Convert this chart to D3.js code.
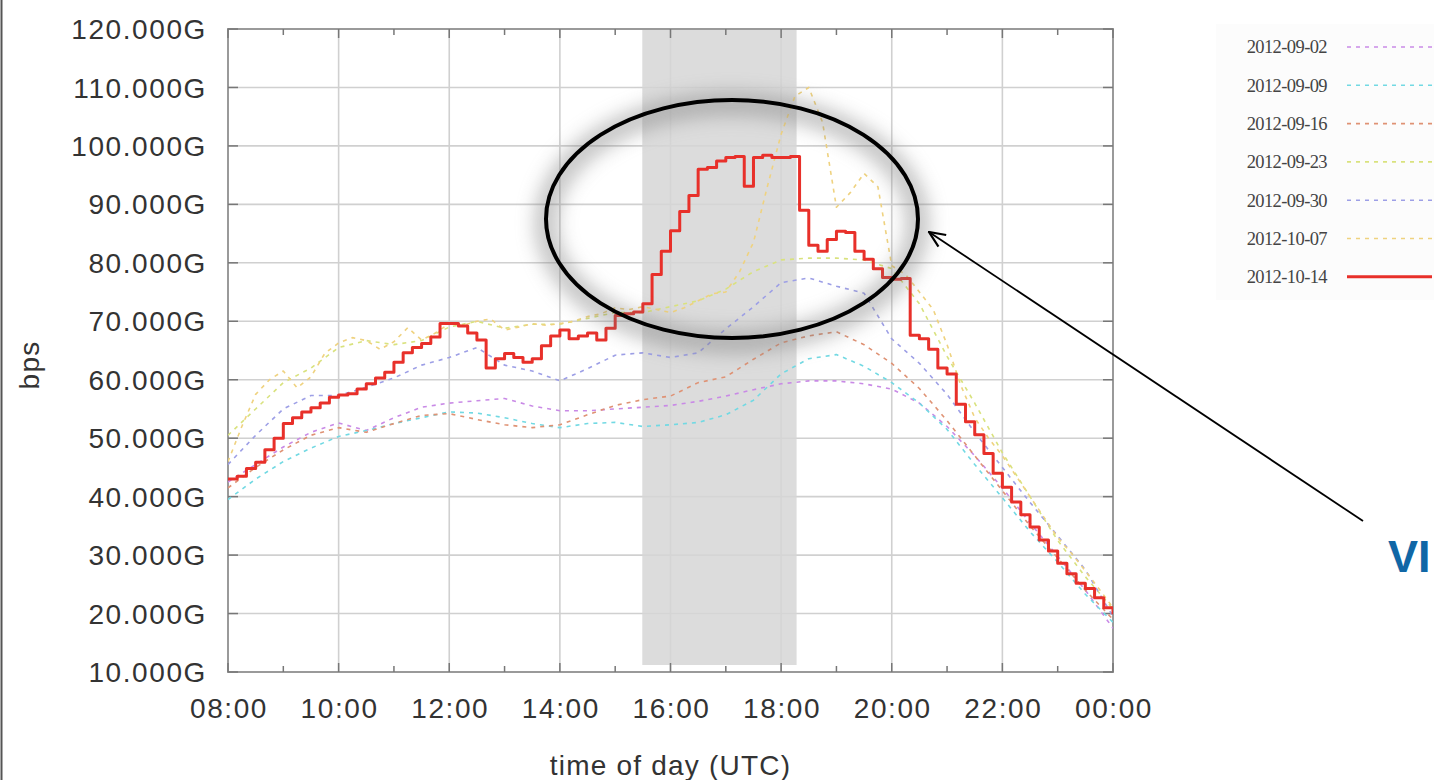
<!DOCTYPE html>
<html>
<head>
<meta charset="utf-8">
<script src="https://cdn.jsdelivr.net/npm/d3@7/dist/d3.min.js"></script>
<style>
  html, body { margin: 0; padding: 0; background: #ffffff; overflow: hidden; }
  svg { display: block; }
</style>
</head>
<body>
<svg id="chart" width="1434" height="780"></svg>
<script>
// ---------------- DATA ----------------
const seriesNames = ["2012-09-02","2012-09-09","2012-09-16","2012-09-23","2012-09-30","2012-10-07","2012-10-14"];
const seriesColors = ["#c98ae6","#72d9e3","#df9274","#d9e27e","#9d9fe6","#efd27f","#e8302a"];

const xTickHours = [8,10,12,14,16,18,20,22,24];
const xTickLabels = ["08:00","10:00","12:00","14:00","16:00","18:00","20:00","22:00","00:00"];
const yTickValues = [10,20,30,40,50,60,70,80,90,100,110,120];
const yTickLabels = ["10.000G","20.000G","30.000G","40.000G","50.000G","60.000G","70.000G","80.000G","90.000G","100.000G","110.000G","120.000G"];

// values in Gbps, every 30 min from 08:00 to 00:00
const s0902 = [42.5,45.5,48.5,51,52.6,51.3,53.5,55.3,56,56.4,56.8,55.5,54.7,54.7,55,55.3,55.6,56.3,57.2,58.3,59.3,59.8,59.8,59.3,58.4,56,52,47,41.5,35.5,29.8,24,17.5];
const s0909 = [39.5,43,46,48.3,50.3,51.3,52.5,53.5,54.5,54.3,53.5,52.5,51.8,52.5,52.7,52,52.3,52.7,54,56.5,61,63.6,64.3,62.3,59.5,56,51.5,45.5,39.8,34,28.8,23.3,18.5];
const s0916 = [41.5,45,48,50.5,51.8,51,52.5,53.9,54.2,53.2,52.3,51.8,52.3,54,55.6,56.6,57.2,59.5,60.5,63.5,66.3,67.5,68.2,66,62.8,58.5,53,47,41,35,29.5,24,19];
const s0923 = [50.5,55,59.5,62,65.5,66.7,66,66.7,69,70,68.8,69.5,69.5,70.5,71.5,71.5,72.5,73.5,75.5,78.5,80.5,80.8,80.8,80.5,79,73,64,56,47.5,40,32.5,26.3,20.8];
const s0930 = [45.5,50.5,55,57.3,57.3,58.7,60.3,62.5,63.8,65.5,62.5,61.5,59.8,61.9,64.2,64.6,63.8,64.6,68.7,72.5,76.6,77.4,76,74.8,67,62.8,57.5,51,45,39,33.3,27.5,19.5];
// every 15 min
const s1007 = [46,52,57.5,60, 61.5,58.6,60.5,64.5, 66.3,67.2,66.7,65.2, 66.5,68.9,66.8,68,
  69.6,69.3,70,70.4, 68.5,69,69.6,69.3, 69.6,70,70.8,71.3, 72.3,72,72.5,72,
  71.5,72.3,73.5,74.7, 75,78.5,83.5,93, 102,108.5,110,104, 89.5,92,95.3,93,
  79.5,78,75,72, 66,59,53.5,50, 47,43.5,40,36.5, 33,30.3,27.3,24.2, 21];
// every 10 min
const s1014 = [43,43.5,44.8,45.9,48,50, 52.5,53.5,54.5,55.2,56,57, 57.4,57.6,58.4,59.3,60.3,61.3,
  63,64.6,65.5,66.2,67.3,69.6, 69.6,69.2,68,66.8,62,63.6, 64.5,63.8,63,63.6,65.8,67.5,
  68.5,67,67.5,68,66.8,68.8, 71,71.3,71.6,73,78,82, 85.5,88.8,91.5,96,96.3,97.4,
  98,98.2,93.1,98,98.4,98, 98,98.2,89,83,82,84, 85.4,85.2,82,80.6,79,77.5,
  77.2,77.3,67.6,67,65.2,62, 61,55.8,52.8,50.6,47.4,44, 41.6,39.1,36.9,34.8,32.6,30.7,
  28.6,26.8,25.2,24.3,22.7,21, 19.9];

const highlightStart = 15.49, highlightEnd = 18.28;   // grey band (hours)

// ---------------- LAYOUT ----------------
const svg = d3.select("#chart");
const W = 1434, H = 780;
const plot = {left: 228, right: 1113, top: 29, bottom: 672};
const x = d3.scaleLinear().domain([8, 24]).range([plot.left, plot.right]);
const y = d3.scaleLinear().domain([10, 120]).range([plot.bottom, plot.top]);

const defs = svg.append("defs");
const blur = defs.append("filter").attr("id","shadow").attr("x","-30%").attr("y","-30%").attr("width","160%").attr("height","160%");
blur.append("feGaussianBlur").attr("stdDeviation", 10);
defs.append("clipPath").attr("id","plotclip").append("rect")
  .attr("x", plot.left).attr("y", plot.top).attr("width", plot.right - plot.left).attr("height", plot.bottom - plot.top);
defs.append("marker").attr("id","arrowhead").attr("viewBox","0 0 20 20").attr("refX",19).attr("refY",10)
  .attr("markerWidth",20).attr("markerHeight",20).attr("markerUnits","userSpaceOnUse").attr("orient","auto")
  .append("path").attr("d","M3,3 L19,10 L3,17").attr("fill","none").attr("stroke","#000").attr("stroke-width",2.2);

svg.append("rect").attr("width", W).attr("height", H).attr("fill", "#fff");
// left page border
svg.append("line").attr("x1",1.5).attr("x2",1.5).attr("y1",0).attr("y2",H).attr("stroke","#555").attr("stroke-width",2);

const font = "'Liberation Sans', Arial, Helvetica, sans-serif";

// grid
const g = svg.append("g");
g.selectAll(".hg").data(yTickValues.slice(1, -1)).enter().append("line")
  .attr("x1", plot.left).attr("x2", plot.right).attr("y1", d => y(d)).attr("y2", d => y(d))
  .attr("stroke", "#d0d0d0").attr("stroke-width", 1.6);
g.selectAll(".vg").data(xTickHours.slice(1, -1)).enter().append("line")
  .attr("x1", d => x(d)).attr("x2", d => x(d)).attr("y1", plot.top).attr("y2", plot.bottom)
  .attr("stroke", "#d0d0d0").attr("stroke-width", 1.6);

// highlight band
g.append("rect").attr("x", x(highlightStart)).attr("width", x(highlightEnd) - x(highlightStart))
  .attr("y", plot.top + 1).attr("height", plot.bottom - plot.top - 8)
  .attr("fill", "#d6d6d6").attr("opacity", 0.85);

// frame + ticks
g.append("rect").attr("x", plot.left).attr("y", plot.top).attr("width", plot.right - plot.left).attr("height", plot.bottom - plot.top)
  .attr("fill","none").attr("stroke","#9a9a9a").attr("stroke-width",2);
const hours = d3.range(8, 25, 1);
g.selectAll(".tt").data(hours).enter().append("line")
  .attr("x1", d => x(d)).attr("x2", d => x(d)).attr("y1", plot.top).attr("y2", d => plot.top + (d % 2 === 0 ? 9 : 6))
  .attr("stroke", "#777").attr("stroke-width", 1.5);
g.selectAll(".bt").data(hours).enter().append("line")
  .attr("x1", d => x(d)).attr("x2", d => x(d)).attr("y1", plot.bottom).attr("y2", d => plot.bottom - (d % 2 === 0 ? 9 : 6))
  .attr("stroke", "#777").attr("stroke-width", 1.5);
g.selectAll(".lt").data(yTickValues).enter().append("line")
  .attr("x1", plot.left).attr("x2", plot.left + 10).attr("y1", d => y(d)).attr("y2", d => y(d))
  .attr("stroke", "#777").attr("stroke-width", 1.5);
g.selectAll(".rt").data(yTickValues).enter().append("line")
  .attr("x1", plot.right).attr("x2", plot.right - 10).attr("y1", d => y(d)).attr("y2", d => y(d))
  .attr("stroke", "#777").attr("stroke-width", 1.5);

// tick labels
svg.append("g").selectAll("text").data(yTickValues).enter().append("text")
  .attr("x", 207).attr("y", d => y(d)).attr("dy", "0.36em").attr("text-anchor", "end")
  .attr("font-family", font).attr("font-size", 28).attr("letter-spacing", 1.6).attr("fill", "#333")
  .text((d, i) => yTickLabels[i]);
svg.append("g").selectAll("text").data(xTickHours).enter().append("text")
  .attr("x", d => x(d) + 1).attr("y", 708).attr("dy", "0.36em").attr("text-anchor", "middle")
  .attr("font-family", font).attr("font-size", 28).attr("letter-spacing", 1.6).attr("fill", "#333")
  .text((d, i) => xTickLabels[i]);
svg.append("text").attr("x", (plot.left + plot.right) / 2).attr("y", 765).attr("dy", "0.36em")
  .attr("text-anchor", "middle").attr("font-family", font).attr("font-size", 28).attr("letter-spacing", 1.2)
  .attr("fill", "#333").text("time of day (UTC)");
svg.append("text").attr("transform", "translate(29,365) rotate(-90)").attr("dy", "0.36em")
  .attr("text-anchor", "middle").attr("font-family", font).attr("font-size", 28).attr("letter-spacing", 1.2)
  .attr("fill", "#333").text("bps");

// series lines
const t30 = d3.range(8, 24.001, 0.5);
const t15 = d3.range(8, 24.001, 0.25);
const t10 = d3.range(0, 97).map(i => 8 + i / 6);
const seriesData = [
  [t30, s0902], [t30, s0909], [t30, s0916], [t30, s0923], [t30, s0930], [t15, s1007], [t10, s1014]
];
const lines = svg.append("g").attr("clip-path", "url(#plotclip)");
const dashLine = d3.line().x(d => x(d[0])).y(d => y(d[1])).curve(d3.curveLinear);
const stepLine = d3.line().x(d => x(d[0])).y(d => y(d[1])).curve(d3.curveStepAfter);
seriesData.forEach(([ts, vals], i) => {
  const pts = ts.map((t, j) => [t, vals[j]]);
  const isMain = i === seriesData.length - 1;
  lines.append("path").datum(pts)
    .attr("d", isMain ? stepLine : dashLine)
    .attr("fill", "none").attr("stroke", seriesColors[i])
    .attr("stroke-width", isMain ? 3 : 1.6)
    .attr("stroke-dasharray", isMain ? null : "4,5")
    .attr("stroke-linejoin", "round");
});

// legend
const leg = svg.append("g");
leg.append("rect").attr("x", 1216).attr("y", 24).attr("width", 230).attr("height", 276).attr("fill", "#fcfcfc");
seriesNames.forEach((name, i) => {
  const yy = 47 + i * 38.3;
  leg.append("text").attr("x", 1327).attr("y", yy).attr("dy", "0.35em").attr("text-anchor", "end")
    .attr("font-family", "'Liberation Serif', 'Times New Roman', serif").attr("font-size", 18.5)
    .attr("letter-spacing", -0.6).attr("fill", "#444").text(name);
  leg.append("line").attr("x1", 1347).attr("x2", 1432).attr("y1", yy).attr("y2", yy)
    .attr("stroke", seriesColors[i]).attr("stroke-width", i === 6 ? 3 : 1.6)
    .attr("stroke-dasharray", i === 6 ? null : "4,5");
});

// annotation ellipse with soft shadow
const ell = {cx: 732, cy: 219, rx: 186, ry: 119};
svg.append("ellipse").attr("cx", ell.cx).attr("cy", ell.cy + 4).attr("rx", ell.rx).attr("ry", ell.ry)
  .attr("fill", "none").attr("stroke", "#777").attr("stroke-width", 20).attr("opacity", 0.5)
  .attr("filter", "url(#shadow)");
svg.append("ellipse").attr("cx", ell.cx).attr("cy", ell.cy).attr("rx", ell.rx).attr("ry", ell.ry)
  .attr("fill", "none").attr("stroke", "#000").attr("stroke-width", 4);

// arrow
svg.append("line").attr("x1", 1363).attr("y1", 521).attr("x2", 929).attr("y2", 232)
  .attr("stroke", "#000").attr("stroke-width", 1.8).attr("marker-end", "url(#arrowhead)");

// callout text (cut at page edge in the source)
svg.append("text").attr("x", 1388).attr("y", 572).attr("font-family", font).attr("font-weight", "bold")
  .attr("font-size", 45).attr("fill", "#1067a6").text("VI");
</script>
</body>
</html>
